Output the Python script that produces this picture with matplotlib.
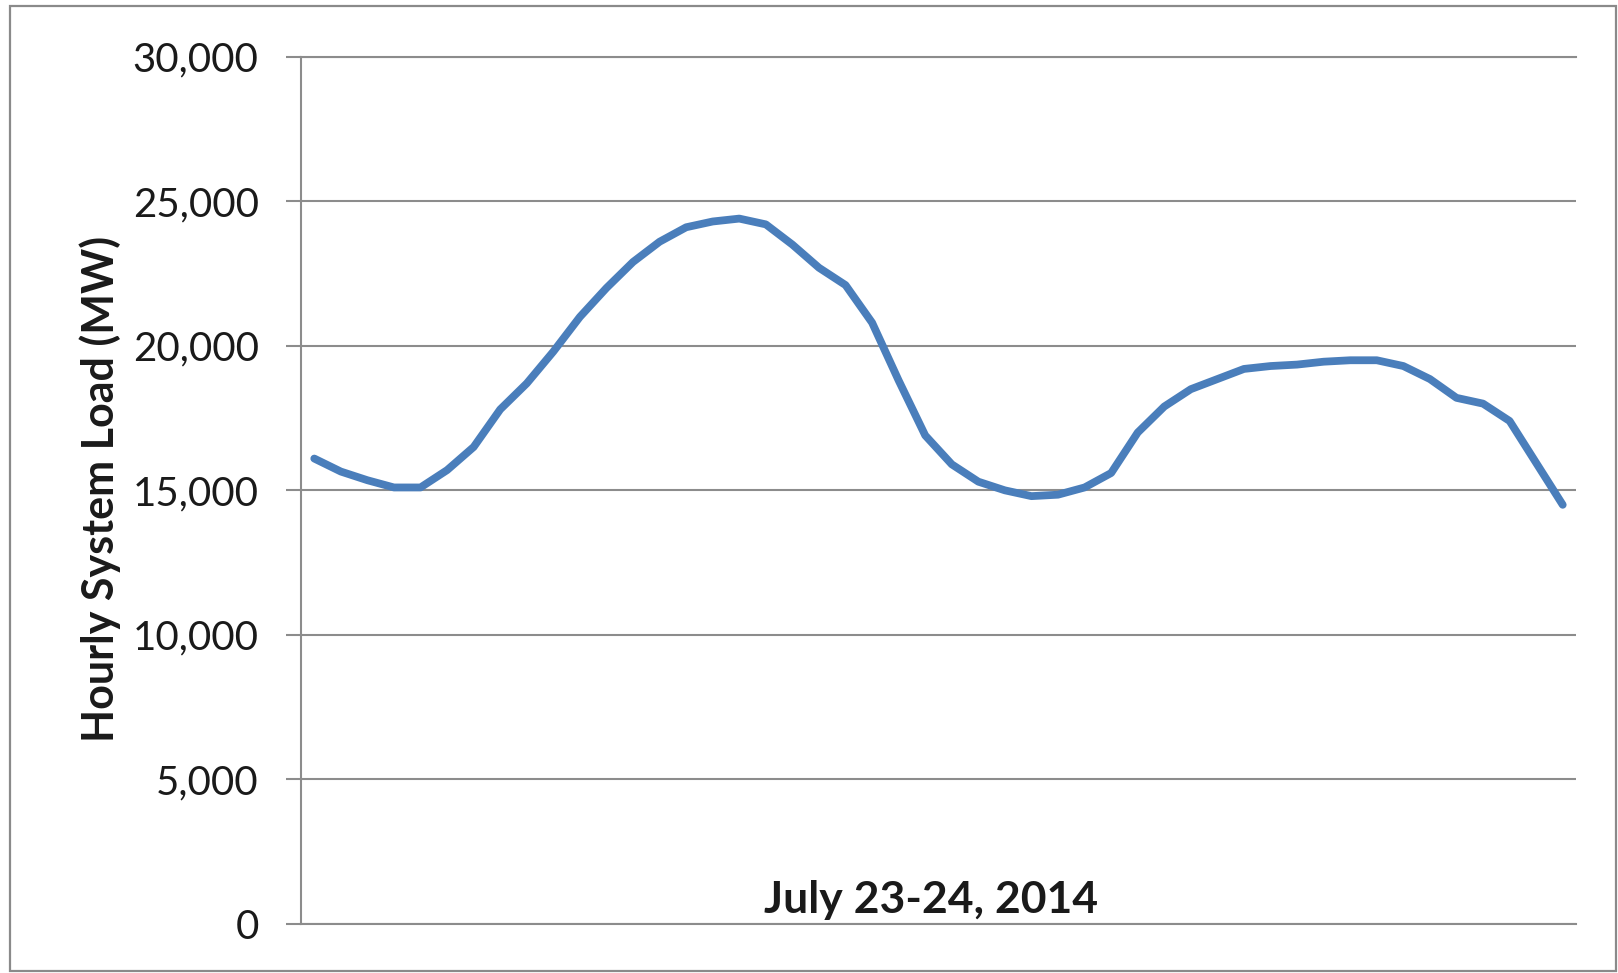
import matplotlib.pyplot as plt
from matplotlib.patches import Rectangle
from matplotlib.ticker import FuncFormatter

# Hourly system load, July 23-24, 2014 (48 hours)
hours = list(range(48))
load_mw = [16100, 15650, 15350, 15100, 15100, 15700, 16500, 17800,
           18700, 19800, 21000, 22000, 22900, 23600, 24100, 24300,
           24400, 24200, 23500, 22700, 22100, 20800, 18800, 16900,
           15900, 15300, 15000, 14800, 14850, 15100, 15600, 17000,
           17900, 18500, 18850, 19200, 19300, 19350, 19450, 19500,
           19500, 19300, 18850, 18200, 18000, 17400, 15950, 14500]
y_ticks = [0, 5000, 10000, 15000, 20000, 25000, 30000]
y_label = 'Hourly System Load (MW)'
x_title = 'July 23-24, 2014'

plt.rcParams['font.family'] = ['Lato', 'DejaVu Sans']
grid_col = '#8c8c8c'
text_col = '#1a1a1a'

fig = plt.figure(figsize=(16.18, 9.73), dpi=100)
W, H = 1618, 973

# outer chart border
fig.patches.append(Rectangle((10 / W, 1 - 971 / H), (1616 - 10) / W, (971 - 6) / H,
                             transform=fig.transFigure, fill=False,
                             edgecolor='#8a8a8a', linewidth=1.6))

ax = fig.add_axes([301 / W, 1 - 924 / H, (1576 - 301) / W, (924 - 56.7) / H])
ax.plot(hours, load_mw, color='#4a7ebb', linewidth=5.6, solid_joinstyle='round',
        solid_capstyle='round', zorder=3, clip_on=False)

ax.set_xlim(-0.5, 47.5)
ax.set_ylim(0, 30000)
ax.set_yticks(y_ticks)
ax.yaxis.set_major_formatter(FuncFormatter(lambda v, p: f'{int(v):,}'))
ax.set_xticks([])
ax.yaxis.grid(True, color=grid_col, linewidth=1.5)
ax.set_axisbelow(True)
ax.tick_params(axis='y', length=10.5, width=1.5, color=grid_col,
               labelsize=29, labelcolor=text_col, pad=20)
for side in ['top', 'bottom', 'left']:
    ax.spines[side].set_color(grid_col)
    ax.spines[side].set_linewidth(1.5)
ax.spines['right'].set_visible(False)

fig.text(100 / W, 1 - 489 / H, y_label, rotation=90, ha='center', va='center',
         fontsize=31, fontweight='bold', color=text_col)
fig.text(931 / W, 1 - 913 / H, x_title, ha='center', va='baseline',
         fontsize=32, fontweight='bold', color=text_col)

fig.savefig('out.png', dpi=100)
